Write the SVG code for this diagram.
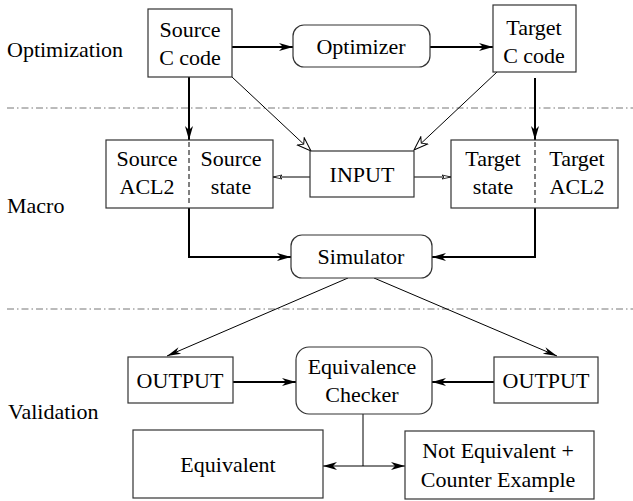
<svg xmlns="http://www.w3.org/2000/svg" width="633" height="501" viewBox="0 0 633 501">
<style>
.t{font-size:22px;fill:#000;text-anchor:middle}
.lbl{text-anchor:start}
.box{fill:#fff;stroke:#333;stroke-width:1.2}
.thick{fill:none;stroke:#000;stroke-width:2}
.thin{fill:none;stroke:#000;stroke-width:1}
.sep{fill:none;stroke:#777;stroke-width:1;stroke-dasharray:7 3 1.5 3}
.div{stroke:#000;stroke-width:1;stroke-dasharray:5 3}
</style>
<defs>
<marker id="ah" markerWidth="15" markerHeight="10" refX="14" refY="5" orient="auto-start-reverse" markerUnits="userSpaceOnUse"><path d="M0,1 L14,5 L0,9 L4,5 z" fill="#000"/></marker>
<marker id="ahs" markerWidth="15" markerHeight="10" refX="14" refY="5" orient="auto" markerUnits="userSpaceOnUse"><path d="M0,1.5 L14,5 L0,8.5 L4,5 z" fill="#000"/></marker>
<marker id="ao" markerWidth="16" markerHeight="12" refX="15" refY="6" orient="auto" markerUnits="userSpaceOnUse"><path d="M1,1 L15,6 L1,11 L5,6 z" fill="#fff" stroke="#000" stroke-width="1"/></marker>
<marker id="asm" markerWidth="10" markerHeight="6" refX="9" refY="3" orient="auto" markerUnits="userSpaceOnUse"><path d="M0,1 L9,3 L0,5 L2,3 z" fill="#fff" stroke="#000" stroke-width="0.8"/></marker>
</defs>
<g id="separators">
<line class="sep" x1="7" y1="108" x2="633" y2="108"/>
<line class="sep" x1="7" y1="309" x2="633" y2="309"/>
</g>
<g id="labels">
<text class="t lbl" font-family="Liberation Serif, Times New Roman, DejaVu Serif, serif" x="7" y="57">Optimization</text>
<text class="t lbl" font-family="Liberation Serif, Times New Roman, DejaVu Serif, serif" x="7" y="213">Macro</text>
<text class="t lbl" font-family="Liberation Serif, Times New Roman, DejaVu Serif, serif" x="8" y="419">Validation</text>
</g>
<g id="connectors">
<line class="thick" x1="232" y1="47" x2="293" y2="47" marker-end="url(#ah)"/>
<line class="thick" x1="430" y1="47" x2="493" y2="47" marker-end="url(#ah)"/>
<line class="thick" x1="189" y1="77" x2="189" y2="140" marker-end="url(#ah)"/>
<line class="thick" x1="535" y1="78" x2="535" y2="140" marker-end="url(#ah)"/>
<polyline class="thick" points="189,208 189,257 291,257" marker-end="url(#ah)"/>
<polyline class="thick" points="535,208 535,257 432,257" marker-end="url(#ah)"/>
<line class="thick" x1="233" y1="382" x2="296" y2="382" marker-end="url(#ah)"/>
<line class="thick" x1="494" y1="382" x2="432" y2="382" marker-end="url(#ah)"/>
<line class="thin" x1="232" y1="77" x2="311" y2="151" marker-end="url(#ao)"/>
<line class="thin" x1="497" y1="72" x2="414" y2="150" marker-end="url(#ao)"/>
<line class="thin" x1="310" y1="177" x2="273" y2="177" marker-end="url(#asm)"/>
<line class="thin" x1="414" y1="177" x2="451" y2="177" marker-end="url(#asm)"/>
<line class="thin" x1="348" y1="278" x2="167" y2="356" marker-end="url(#ahs)"/>
<line class="thin" x1="374" y1="278" x2="557" y2="356" marker-end="url(#ahs)"/>
<line class="thin" x1="363" y1="414" x2="363" y2="466"/>
<line class="thin" x1="323" y1="466" x2="405" y2="466" marker-start="url(#ah)" marker-end="url(#ah)"/>
</g>
<g id="source-c">
<rect class="box" x="148" y="9" width="84" height="68"/>
<text class="t" font-family="Liberation Serif, Times New Roman, DejaVu Serif, serif" x="190" y="37">Source</text>
<text class="t" font-family="Liberation Serif, Times New Roman, DejaVu Serif, serif" x="190" y="65">C code</text>
</g>
<g id="optimizer">
<rect class="box" x="293" y="25" width="137" height="42" rx="11"/>
<text class="t" font-family="Liberation Serif, Times New Roman, DejaVu Serif, serif" x="361" y="54">Optimizer</text>
</g>
<g id="target-c">
<rect class="box" x="493" y="5" width="83" height="67"/>
<text class="t" font-family="Liberation Serif, Times New Roman, DejaVu Serif, serif" x="534" y="35">Target</text>
<text class="t" font-family="Liberation Serif, Times New Roman, DejaVu Serif, serif" x="534" y="63">C code</text>
</g>
<g id="source-acl2">
<rect class="box" x="106" y="140" width="167" height="68"/>
<line class="div" x1="189" y1="142" x2="189" y2="206"/>
<text class="t" font-family="Liberation Serif, Times New Roman, DejaVu Serif, serif" x="147" y="166">Source</text>
<text class="t" font-family="Liberation Serif, Times New Roman, DejaVu Serif, serif" x="147" y="194">ACL2</text>
<text class="t" font-family="Liberation Serif, Times New Roman, DejaVu Serif, serif" x="231" y="166">Source</text>
<text class="t" font-family="Liberation Serif, Times New Roman, DejaVu Serif, serif" x="231" y="194">state</text>
</g>
<g id="input">
<rect class="box" x="310" y="151" width="104" height="46"/>
<text class="t" font-family="Liberation Serif, Times New Roman, DejaVu Serif, serif" x="362" y="182">INPUT</text>
</g>
<g id="target-acl2">
<rect class="box" x="451" y="140" width="167" height="68"/>
<line class="div" x1="535" y1="142" x2="535" y2="206"/>
<text class="t" font-family="Liberation Serif, Times New Roman, DejaVu Serif, serif" x="493" y="166">Target</text>
<text class="t" font-family="Liberation Serif, Times New Roman, DejaVu Serif, serif" x="493" y="194">state</text>
<text class="t" font-family="Liberation Serif, Times New Roman, DejaVu Serif, serif" x="577" y="166">Target</text>
<text class="t" font-family="Liberation Serif, Times New Roman, DejaVu Serif, serif" x="577" y="194">ACL2</text>
</g>
<g id="simulator">
<rect class="box" x="291" y="235" width="141" height="43" rx="11"/>
<text class="t" font-family="Liberation Serif, Times New Roman, DejaVu Serif, serif" x="361" y="264">Simulator</text>
</g>
<g id="output-left">
<rect class="box" x="128" y="357" width="105" height="46"/>
<text class="t" font-family="Liberation Serif, Times New Roman, DejaVu Serif, serif" x="180" y="388">OUTPUT</text>
</g>
<g id="checker">
<rect class="box" x="296" y="347" width="136" height="67" rx="13"/>
<text class="t" font-family="Liberation Serif, Times New Roman, DejaVu Serif, serif" x="362" y="374">Equivalence</text>
<text class="t" font-family="Liberation Serif, Times New Roman, DejaVu Serif, serif" x="362" y="402">Checker</text>
</g>
<g id="output-right">
<rect class="box" x="494" y="357" width="104" height="46"/>
<text class="t" font-family="Liberation Serif, Times New Roman, DejaVu Serif, serif" x="546" y="388">OUTPUT</text>
</g>
<g id="equivalent">
<rect class="box" x="133" y="430" width="190" height="68"/>
<text class="t" font-family="Liberation Serif, Times New Roman, DejaVu Serif, serif" x="228" y="472">Equivalent</text>
</g>
<g id="not-equivalent">
<rect class="box" x="405" y="431" width="189" height="68"/>
<text class="t" font-family="Liberation Serif, Times New Roman, DejaVu Serif, serif" x="498" y="458">Not Equivalent +</text>
<text class="t" font-family="Liberation Serif, Times New Roman, DejaVu Serif, serif" x="498" y="487">Counter Example</text>
</g>
</svg>
